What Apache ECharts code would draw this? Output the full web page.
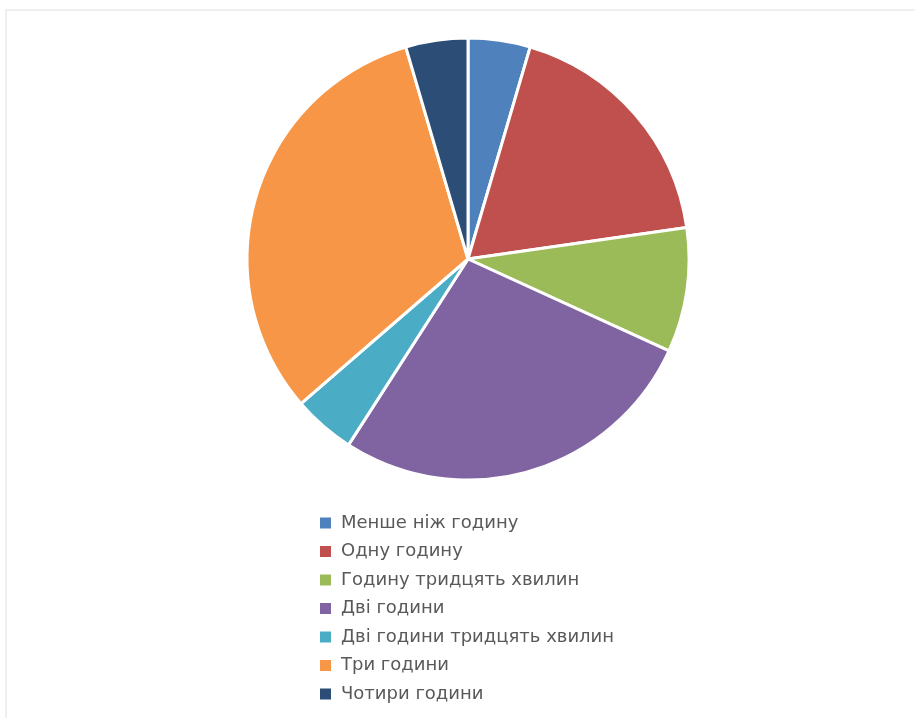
<!DOCTYPE html>
<html>
<head>
<meta charset="utf-8">
<script src="https://cdn.jsdelivr.net/npm/echarts@6/dist/echarts.min.js"></script>
<style>
html,body{margin:0;padding:0;background:#fff;}
#frame{position:absolute;left:5px;top:9px;width:910px;height:709px;border-top:2px solid #efefef;border-left:2px solid #efefef;}
#chart{position:absolute;left:0;top:0;width:915px;height:718px;}
</style>
</head>
<body>
<div id="frame"></div>
<div id="chart"></div>
<script>
const categories = ["Менше ніж годину","Одну годину","Годину тридцять хвилин","Дві години","Дві години тридцять хвилин","Три години","Чотири години"];
const values = [1, 4, 2, 6, 1, 7, 1];
const colors = ["#4F81BD","#C0504D","#9BBB59","#8064A2","#4BACC6","#F79646","#2C4D75"];

const chart = echarts.init(document.getElementById('chart'), null, {renderer:'canvas'});
chart.setOption({
  animation: false,
  color: colors,
  legend: {
    orient: 'vertical',
    left: 315,
    top: 508,
    itemWidth: 11,
    itemHeight: 11,
    itemGap: 8.5,
    icon: 'rect',
    itemStyle: {borderWidth: 0},
    textStyle: {fontFamily: 'DejaVu Sans', fontSize: 18, color: '#595959', lineHeight: 20, padding: [0, 0, 0, 5]},
    data: categories
  },
  series: [{
    type: 'pie',
    center: [468, 259],
    radius: [0, 221],
    startAngle: 90,
    clockwise: true,
    label: {show: false},
    labelLine: {show: false},
    itemStyle: {borderColor: '#fff', borderWidth: 3},
    emphasis: {disabled: true},
    data: categories.map((c, i) => ({name: c, value: values[i]}))
  }]
});
</script>
</body>
</html>
